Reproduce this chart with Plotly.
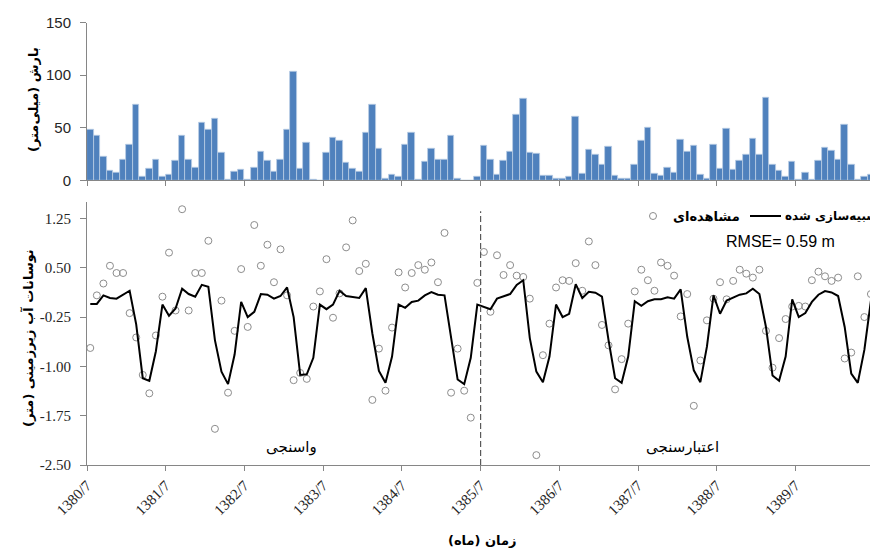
import plotly.graph_objects as go
import numpy as np

W, H = 870, 550
L = 87

# ---------------- data ----------------
tick_months = [0, 12, 24, 36, 48, 60, 72, 84, 96, 108]
tick_labels = ["1380/7", "1381/7", "1382/7", "1383/7", "1384/7",
               "1385/7", "1386/7", "1387/7", "1388/7", "1389/7"]

rain = [48, 42.5, 22, 9, 7, 20, 34, 72, 3.5, 11, 20, 3,
        5, 19, 42, 20, 12, 55, 48, 59, 26, 0.6, 8, 10.5,
        0.6, 12, 27, 19, 8, 20, 48, 103, 11, 35.5, 0.5, 0,
        26, 41, 38, 17, 11.5, 8, 45, 71.5, 30.5, 1.3, 5, 3,
        34, 45, 0.6, 18, 30.5, 20, 20, 42.5, 1.3, 0, 0, 3,
        32.5, 20, 5, 19, 27, 62.5, 77.5, 26, 25, 4.4, 4.4, 1.3,
        2, 3.5, 61, 6, 29.5, 24, 14.5, 32, 4.4, 1.3, 1.3, 14.5,
        38, 50.5, 6, 4, 12, 7.5, 38.5, 27, 32.5, 5, 1.3, 33.5,
        11.5, 49.5, 10.5, 19, 24, 40, 24, 79, 14.5, 9, 3, 18,
        0.6, 7.5, 0.6, 19, 31.5, 28, 20, 52.5, 15, 0.6, 3.5, 5]

observed = [-0.72, 0.08, 0.26, 0.53, 0.42, 0.42, -0.19, -0.56, -1.13, -1.41, -0.53, 0.06,
            0.73, -0.15, 1.39, -0.15, 0.42, 0.42, 0.91, -1.95, 0.00, -1.40, -0.46, 0.48,
            -0.40, 1.15, 0.53, 0.85, 0.28, 0.78, 0.08, -1.21, -1.10, -1.19, -0.09, 0.14,
            0.63, -0.26, 0.11, 0.81, 1.22, 0.45, 0.56, -1.51, -0.73, -1.37, -0.41, 0.43,
            0.20, 0.42, 0.54, 0.47, 0.58, 0.28, 1.03, -1.40, -0.73, -1.37, -1.78, 0.27,
            0.74, -0.17, 0.69, 0.39, 0.54, 0.38, 0.36, 0.03, -2.35, -0.83, -0.35, 0.20,
            0.31, 0.30, 0.57, 0.15, 0.90, 0.54, -0.37, -0.68, -1.35, -0.89, -0.35, 0.14,
            0.47, 0.31, 0.15, 0.58, 0.53, 0.38, -0.24, 0.10, -1.60, -0.91, -0.30, 0.03,
            0.28, 0.02, 0.30, 0.47, 0.41, 0.35, 0.47, -0.46, -1.02, -0.57, -0.28, -0.09,
            -0.08, -0.09, 0.31, 0.44, 0.37, 0.30, 0.35, -0.88, -0.79, 0.37, -0.25, 0.10]

simulated = [-0.05, -0.05, 0.08, 0.04, 0.03, 0.09, 0.15, -0.36, -1.18, -1.22, -0.77, -0.06,
             -0.23, -0.12, 0.18, 0.10, 0.06, 0.24, 0.21, -0.60, -1.08, -1.27, -0.82, -0.02,
             -0.25, -0.17, 0.10, 0.09, 0.03, 0.07, 0.20, -0.25, -1.13, -1.12, -0.87, -0.06,
             -0.13, -0.06, 0.15, 0.07, 0.05, 0.04, 0.19, -0.50, -1.07, -1.25, -0.85, -0.06,
             -0.11, -0.02, 0.00, 0.08, 0.13, 0.09, 0.08, -0.55, -1.20, -1.27, -0.87, -0.06,
             -0.10, -0.13, 0.03, 0.07, 0.10, 0.24, 0.31, -0.57, -1.08, -1.24, -0.85, -0.06,
             -0.25, -0.20, 0.25, 0.04, 0.135, 0.12, 0.06, -0.60, -1.18, -1.25, -0.85, -0.01,
             -0.08, -0.01, 0.02, 0.02, 0.05, 0.03, 0.17, -0.55, -1.06, -1.24, -0.70, 0.08,
             -0.20, 0.00, 0.05, 0.09, 0.11, 0.18, 0.10, -0.40, -1.14, -1.22, -0.85, 0.02,
             -0.25, -0.19, -0.02, 0.09, 0.145, 0.125, 0.07, -0.40, -1.11, -1.25, -0.75, 0.00]

split_month = 60  # start of validation period (1385/7)
y_ticks = [-2.5, -1.75, -1.0, -0.25, 0.5, 1.25]

# ---------------- helpers ----------------
def px_x(p):
    return (p - L) / (W - L)

def px_y(p):
    return 1 - p / H

x_mid = np.arange(len(rain)) + 0.5
x_max = 119.36

AX = "#868686"
serif = "Liberation Serif"
sans = "Liberation Sans"
fa = "DejaVu Sans"

fig = go.Figure()
fig.add_trace(go.Bar(x=x_mid, y=rain, width=1.0,
                     marker=dict(color="#4F81BD", line=dict(color="#B9CDE5", width=0.8)),
                     xaxis="x", yaxis="y", showlegend=False))
fig.add_trace(go.Scatter(x=x_mid, y=observed, mode="markers",
                         marker=dict(symbol="circle-open", size=7, color="#8C8C8C",
                                     line=dict(width=1, color="#8C8C8C")),
                         xaxis="x2", yaxis="y2", showlegend=False))
fig.add_trace(go.Scatter(x=x_mid, y=simulated, mode="lines",
                         line=dict(color="black", width=2),
                         xaxis="x2", yaxis="y2", showlegend=False))

common_x = dict(range=[0, x_max], showline=True, linecolor=AX, linewidth=1,
                ticks="outside", ticklen=5, tickcolor=AX, tickwidth=1,
                tickvals=tick_months, showgrid=False, zeroline=False, automargin=False)

fig.update_layout(
    width=W, height=H,
    margin=dict(l=L, r=0, t=0, b=0),
    paper_bgcolor="white", plot_bgcolor="white",
    bargap=0,
    xaxis=dict(domain=[0, 1], anchor="y", showticklabels=False, **common_x),
    yaxis=dict(domain=[px_y(180.3), px_y(22.7)], anchor="x", range=[0, 150],
               tickvals=[0, 50, 100, 150], ticks="outside", ticklen=6, tickcolor=AX,
               showline=True, linecolor=AX, showgrid=False, zeroline=False,
               ticklabelstandoff=6, automargin=False,
               tickfont=dict(family=sans, size=15, color="#262626")),
    xaxis2=dict(domain=[0, 1], anchor="y2", ticktext=tick_labels, tickangle=-45,
                tickfont=dict(family=serif, size=15, color="#262626"), **common_x),
    yaxis2=dict(domain=[px_y(465), px_y(202)], anchor="x2", range=[-2.5, 1.5],
                tickvals=y_ticks, ticktext=[f"{v:.2f}" for v in y_ticks],
                ticks="outside", ticklen=6, tickcolor=AX,
                showline=True, linecolor=AX, showgrid=False, zeroline=False,
                ticklabelstandoff=6, automargin=False,
                tickfont=dict(family=serif, size=15, color="#262626")),
)

# calibration / validation divider
fig.add_shape(type="line", xref="x2", yref="y2", x0=split_month, x1=split_month,
              y0=-2.5, y1=1.36, line=dict(color="#595959", width=1.2, dash="6px,3px"))

ann = []
# axis titles
ann.append(dict(text="<b>بارش (میلی‌متر)</b>", x=px_x(33), y=px_y(100), textangle=-90,
                font=dict(family=fa, size=13, color="black")))
ann.append(dict(text="<b>نوسانات آب زیرزمینی (متر)</b>", x=px_x(28), y=px_y(338), textangle=-90,
                font=dict(family=fa, size=13, color="black")))
ann.append(dict(text="<b>زمان (ماه)</b>", x=px_x(482), y=px_y(540),
                font=dict(family=fa, size=13, color="black")))
# period labels
ann.append(dict(text="واسنجی", x=px_x(291), y=px_y(447),
                font=dict(family=fa, size=15, color="black")))
ann.append(dict(text="اعتبارسنجی", x=px_x(682), y=px_y(447),
                font=dict(family=fa, size=15, color="black")))
# RMSE
ann.append(dict(text="RMSE= 0.59 m", x=px_x(780), y=px_y(241),
                font=dict(family=sans, size=16, color="black")))
# legend texts
ann.append(dict(text="<b>مشاهده‌ای</b>", x=px_x(671), y=px_y(216), xanchor="left",
                font=dict(family=fa, size=13, color="black")))
ann.append(dict(text="<b>شبیه‌سازی شده</b>", x=px_x(783), y=px_y(216), xanchor="left",
                font=dict(family=fa, size=12, color="black")))
for a in ann:
    a.setdefault("xanchor", "center")
    a.update(xref="paper", yref="paper", yanchor="middle", showarrow=False)
fig.update_layout(annotations=ann)

# legend symbols
fig.add_shape(type="circle", xref="paper", yref="paper",
              x0=px_x(649.5), x1=px_x(656.5), y0=px_y(219.5), y1=px_y(212.5),
              line=dict(color="#8C8C8C", width=1))
fig.add_shape(type="line", xref="paper", yref="paper",
              x0=px_x(750), x1=px_x(781), y0=px_y(216), y1=px_y(216),
              line=dict(color="black", width=2))

fig.write_html("out.html", config={"displayModeBar": False},
               post_script="document.body.style.margin='0';document.body.style.overflow='hidden';")
